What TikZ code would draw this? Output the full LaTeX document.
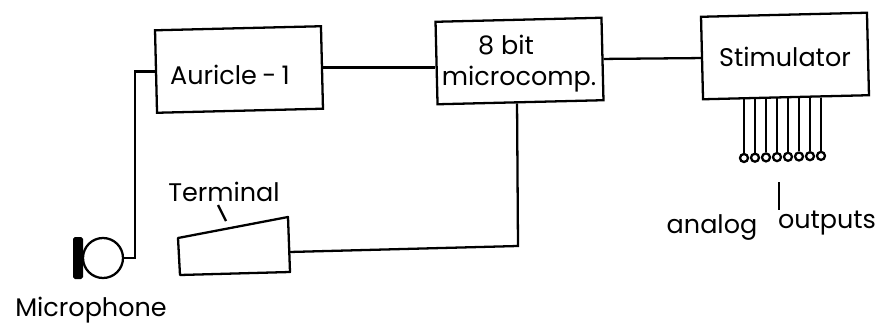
\documentclass[tikz,border=0pt]{standalone}
\usepackage{fontspec}
\setmainfont{Poppins}
\usepackage{tikz}
\usetikzlibrary{calc}
\begin{document}
\begin{tikzpicture}[
  line width=1.3pt,
  font=\fontsize{14.5pt}{17pt}\selectfont,
  block/.style={rectangle, draw, inner sep=1pt, rotate=1.4, minimum width=3.32cm, minimum height=1.65cm},
  pin/.style={circle, draw, minimum size=0.16cm, inner sep=0pt},
  plain/.style={inner sep=0pt, align=center},
]
\useasboundingbox (0,0) rectangle (17.6,6.46);
\node[block] (A) at (4.78,5.07) {};
\node[block] (C) at (10.39,5.24) {};
\node[block] (S) at (15.7,5.34) {};
\node[plain] (Atxt) at (4.6,4.96) {\spaceskip=3pt Auricle - 1};
\node[plain] (Ctxt) at (10.12,5.56) {8 bit};
\node[plain] (Dtxt) at (10.38,4.88) {microcomp.};
\node[plain] (Stxt) at (15.7,5.32) {Stimulator};
% microphone
\node[circle, draw, minimum size=0.8cm, inner sep=0pt] (Mic) at (2.06,1.3) {};
\node[rectangle, fill=black, rounded corners=1pt, minimum width=0.2cm, minimum height=0.84cm, inner sep=0pt] (Bar) at (1.56,1.3) {};
\node[plain] (Mtxt) at (1.82,0.26) {Microphone};
\coordinate (Mbend) at (2.7,1.3);
\draw (Mic.east) -| (Mbend) |- (A.west);
% terminal
\coordinate (T1) at (3.56,1.7);
\coordinate (T2) at (5.76,2.12);
\coordinate (T3) at (5.8,1.02);
\coordinate (T4) at (3.6,0.96);
\coordinate (T5) at (5.79,1.42);
\coordinate (Tc) at (10.36,1.54);
\draw[line join=round] (T1) -- (T2) -- (T3) -- (T4) -- cycle;
\node[plain] (Ttxt) at (4.48,2.62) {Terminal};
\coordinate (Tp1) at (4.36,2.36);
\coordinate (Tp2) at (4.52,2.04);
\draw (Tp1) -- (Tp2);
\draw (A.east) -- (A.east -| C.west);
\draw (C.east) -- (S.west);
\draw ([xshift=-0.07cm]C.south) -- (Tc) -- (T5);
% outputs
\foreach \i in {0,...,7}{
  \node[pin] (P\i) at (14.88+0.22*\i,3.3+0.006*\i) {};
  \draw (P\i) -- (P\i |- S.south);
}
\coordinate (L1) at (15.58,2.82);
\coordinate (L2) at (15.58,2.26);
\draw (L1) -- (L2);
\node[plain] (Lana) at (14.24,1.9) {analog};
\node[plain] (Lout) at (16.54,2.0) {outputs};
\end{tikzpicture}
\end{document}
